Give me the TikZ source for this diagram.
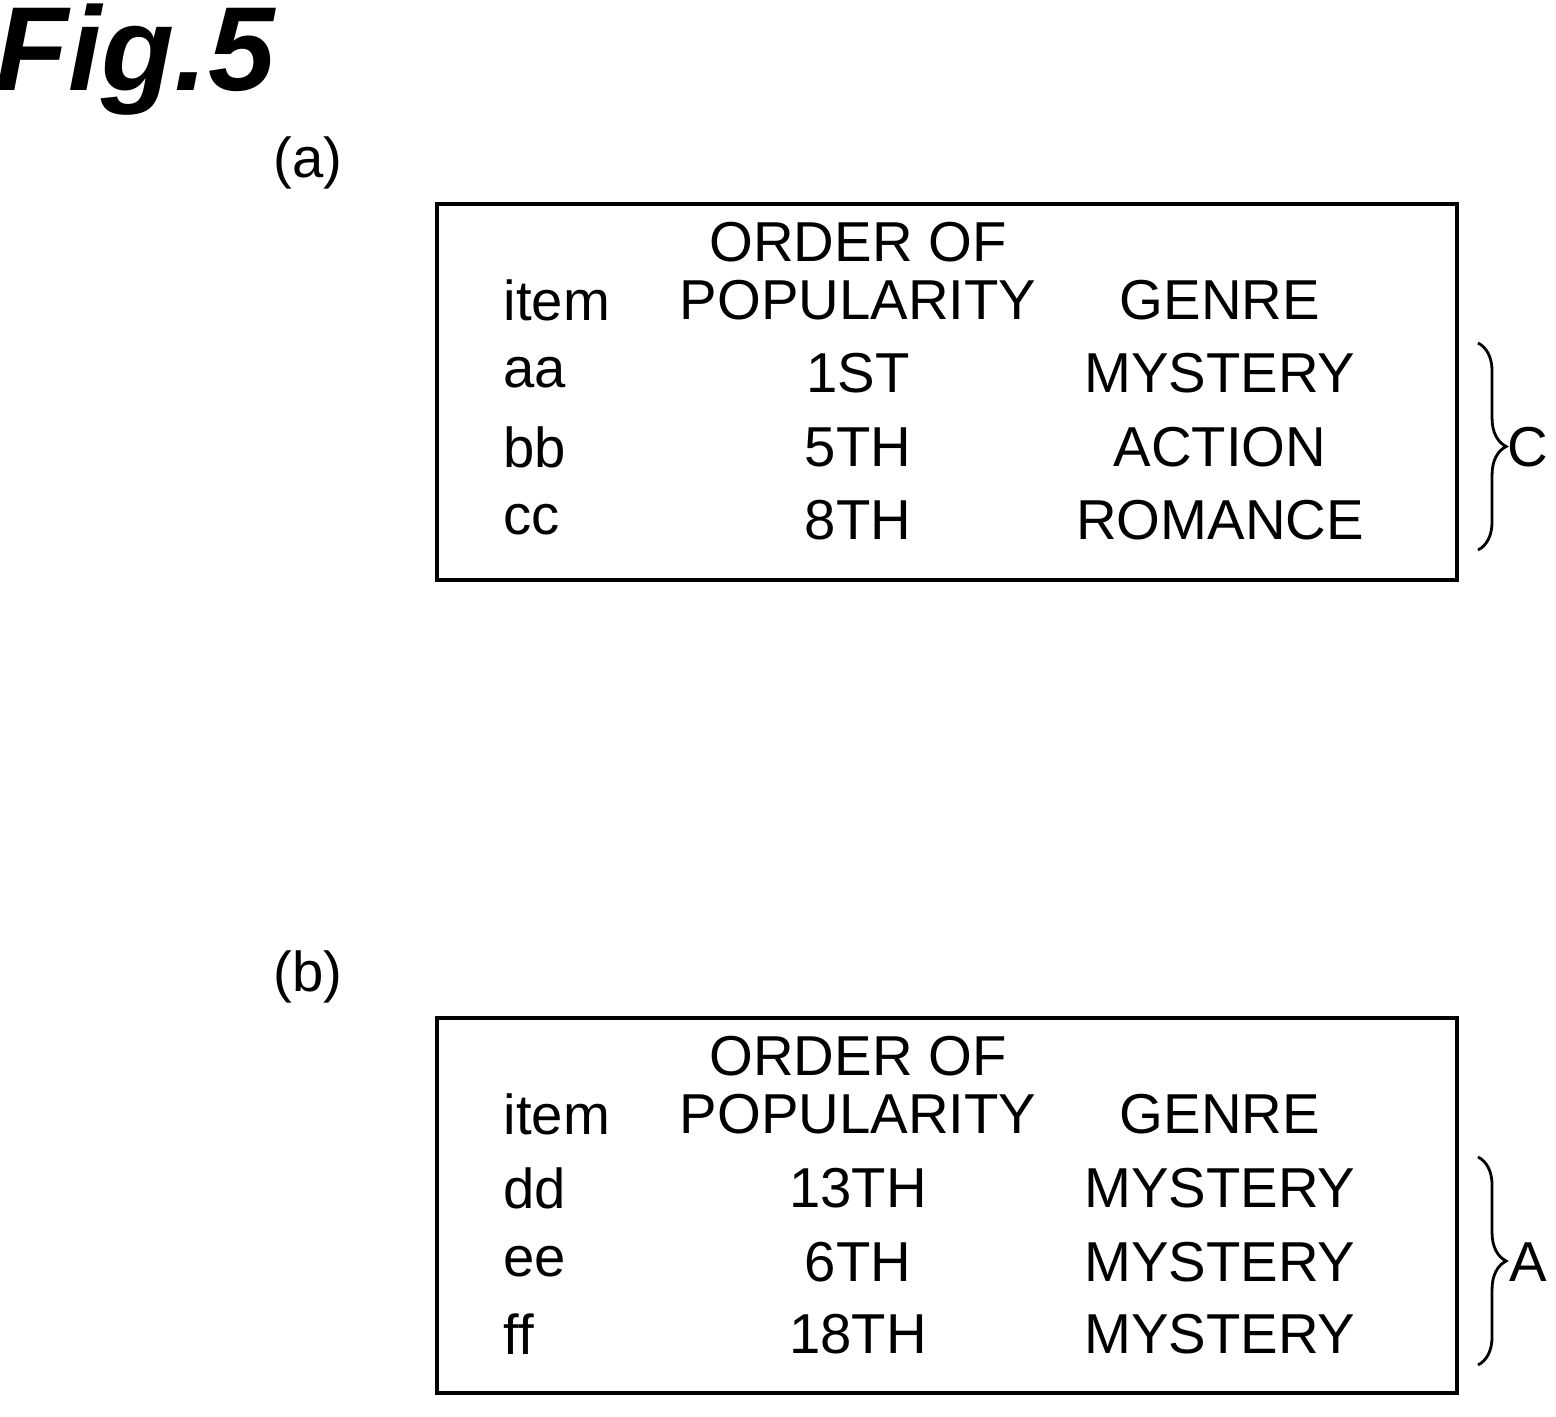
\documentclass[tikz,border=0pt]{standalone}
\usepackage{fontspec}
\setmainfont{Liberation Sans}
\usetikzlibrary{decorations.pathreplacing}
\begin{document}
\begin{tikzpicture}[
  x=0.01cm, y=-0.01cm,
  tnode/.style={inner sep=0pt,font=\fontsize{16pt}{18pt}\selectfont},
  lnode/.style={tnode,anchor=west},
  tbox/.style={draw,line width=1.2pt},
  brc/.style={decorate,decoration={brace,amplitude=8pt},line width=0.8pt}
]
  \useasboundingbox (0,0) rectangle (1556,1417);
  \node[inner sep=0pt,font=\fontsize{34pt}{36pt}\selectfont\bfseries\itshape] (fig) at (135,60) {Fig.5};

  % table (a)
  \node[tnode] (la) at (308,163) {(a)};
  \draw[tbox] (437,204) coordinate (a1) rectangle (1457,580) coordinate (a2);
  \node[tnode] (ha0) at (858,242) {ORDER OF};
  \node[lnode] (ha1) at (503,300) {item};
  \node[tnode] (ha2) at (858,300) {POPULARITY};
  \node[tnode] (ha3) at (1220,300) {GENRE};
  \node[lnode] (ra1) at (503,373) {aa};
  \node[tnode] (ra2) at (858,373) {1ST};
  \node[tnode] (ra3) at (1220,373) {MYSTERY};
  \node[lnode] (sa1) at (503,447) {bb};
  \node[tnode] (sa2) at (858,447) {5TH};
  \node[tnode] (sa3) at (1220,447) {ACTION};
  \node[lnode] (ta1) at (503,520) {cc};
  \node[tnode] (ta2) at (858,520) {8TH};
  \node[tnode] (ta3) at (1220,520) {ROMANCE};
  \coordinate (ba1) at (1478,343);
  \coordinate (ba2) at (1478,550);
  \draw[brc] (ba1) -- (ba2);
  \node[tnode] (C) at (1528,447) {C};

  % table (b)
  \node[tnode] (lb) at (308,977) {(b)};
  \draw[tbox] (437,1018) coordinate (b1) rectangle (1457,1393) coordinate (b2);
  \node[tnode] (hb0) at (858,1056) {ORDER OF};
  \node[lnode] (hb1) at (503,1114) {item};
  \node[tnode] (hb2) at (858,1114) {POPULARITY};
  \node[tnode] (hb3) at (1220,1114) {GENRE};
  \node[lnode] (rb1) at (503,1188) {dd};
  \node[tnode] (rb2) at (858,1188) {13TH};
  \node[tnode] (rb3) at (1220,1188) {MYSTERY};
  \node[lnode] (sb1) at (503,1262) {ee};
  \node[tnode] (sb2) at (858,1262) {6TH};
  \node[tnode] (sb3) at (1220,1262) {MYSTERY};
  \node[lnode] (tb1) at (503,1334) {ff};
  \node[tnode] (tb2) at (858,1334) {18TH};
  \node[tnode] (tb3) at (1220,1334) {MYSTERY};
  \coordinate (bb1) at (1478,1157);
  \coordinate (bb2) at (1478,1365);
  \draw[brc] (bb1) -- (bb2);
  \node[tnode] (A) at (1528,1262) {A};
\end{tikzpicture}
\end{document}
